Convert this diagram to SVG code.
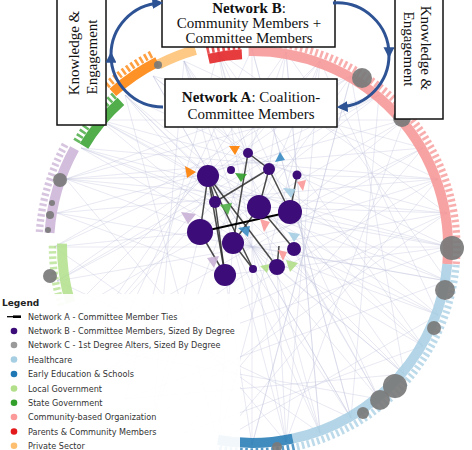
<svg xmlns="http://www.w3.org/2000/svg" width="472" height="450" viewBox="0 0 472 450">
<defs>
<style>
.chord{fill:none;stroke:#bcc1da;stroke-width:.7;opacity:.5}
.band{fill:none;stroke-width:10;opacity:.85}
.teeth{fill:none;stroke-width:7;stroke-dasharray:2.5 2.5;opacity:.75}
.edge{stroke:#2a2a2a;stroke-width:1.5;opacity:.85}
.nb{fill:#3c0c78}
.nc{fill:#7a7a7a;opacity:.92}
.box{fill:#fff;stroke:#111;stroke-width:1.5}
.bt{font-family:"Liberation Serif",serif;font-size:15px;fill:#111}
.lg{font-family:"DejaVu Sans",sans-serif;font-size:8.1px;fill:#333}
.arr{fill:none;stroke:#2e5395;stroke-width:3}
</style>
<marker id="ah" viewBox="0 0 10 10" refX="7" refY="5" markerWidth="11" markerHeight="11" markerUnits="userSpaceOnUse" orient="auto">
<path d="M0,0 L10,5 L0,10 z" fill="#2e5395"/>
</marker>
</defs>
<rect width="472" height="450" fill="#fff"/>

<g id="connectors">
<path class="chord" d="M252,49L252,445M286,52L153,418M320,61L81,346M351,76L54,247M379,95L66,179M404,120L100,120M423,148L153,76M438,179L184,61M447,213L218,52M450,247L54,247M447,281L57,213M438,315L66,179M423,346L81,148M404,374L100,120M379,399L125,95M351,418L153,76M320,433L184,61M286,442L218,52M450,247L100,374M447,213L153,418M438,179L218,442M423,148L184,433M404,120L286,442M379,95L351,418M351,76L404,374M320,61L438,315M286,52L447,281M218,52L423,346M184,61L379,399M153,76L438,315M125,95L450,247M100,120L447,213M81,148L438,179M66,179L423,148M57,213L404,120M54,247L379,95M57,281L351,76M66,315L320,61M81,346L286,52M100,374L252,49M125,399L218,52M153,418L184,61M218,442L125,95M286,442L66,179M320,433L54,247M351,418L57,281M379,399L81,346M404,374L125,399M423,346L184,433M438,315L218,442M447,281L125,399M447,213L100,374M320,61L218,442M351,76L252,445M286,52L320,433M252,49L351,418M218,52L320,433M184,61L286,442M153,76L351,418M125,95L404,374M100,120L447,281M81,148L450,247M66,179L447,213M57,213L438,179M351,76L66,179M379,95L57,281M404,120L66,315M423,148L81,346M438,179L100,374M447,213L57,281M450,247L66,179M447,281L81,148M438,315L100,120M423,346L125,95M404,374L184,61M379,399L218,52M351,418L252,49M320,433L286,52M286,442L320,61M252,445L351,76"/>
<path class="chord" d="M351,76L259,207M404,120L290,212M450,247L290,212M438,315L294,249M404,374L277,267M351,418L253,269M252,445L225,275M153,418L200,232M54,247L200,232M66,179L208,176M125,95L208,176M218,52L248,153M286,52L269,169M438,179L297,175M447,213L259,207M447,281L233,243M320,433L233,243M81,346L215,202M81,148L215,202M184,61L231,170M320,61L259,207M423,148L290,212M423,346L290,212M379,399L294,249M286,442L277,267M218,442L233,243M57,213L225,275M100,120L259,207M153,76L269,169M379,95L200,232M450,247L225,275M100,374L253,269M57,281L269,169M438,179L233,243"/>
<g id="committee-ties">
<line class="edge" x1="208" y1="176" x2="215" y2="202"/>
<line class="edge" x1="208" y1="176" x2="225" y2="275"/>
<line class="edge" x1="208" y1="176" x2="253" y2="269"/>
<line class="edge" x1="208" y1="176" x2="277" y2="267"/>
<line class="edge" x1="215" y1="202" x2="225" y2="275"/>
<line class="edge" x1="248" y1="153" x2="269" y2="169"/>
<line class="edge" x1="248" y1="153" x2="233" y2="243"/>
<line class="edge" x1="269" y1="169" x2="215" y2="202"/>
<line class="edge" x1="269" y1="169" x2="290" y2="212"/>
<line class="edge" x1="269" y1="169" x2="259" y2="207"/>
<line class="edge" x1="200" y1="232" x2="208" y2="176"/>
<line class="edge" x1="200" y1="232" x2="225" y2="275"/>
<line class="edge" x1="233" y1="243" x2="259" y2="207"/>
<line class="edge" x1="259" y1="207" x2="294" y2="249"/>
<line class="edge" x1="233" y1="243" x2="253" y2="269"/>
<line class="edge" x1="277" y1="267" x2="279" y2="246"/>
<line class="edge" x1="297" y1="175" x2="290" y2="212"/>
<line x1="200" y1="232" x2="290" y2="212" stroke="#000" stroke-width="2"/>
</g>
</g>

<g id="ring-bands">
<path class="band" stroke="#f79393" d="M248.6,51.0 A196,196 0 0 1 447.3,264.1"/>
<path class="teeth" stroke="#f79393" transform="translate(252 247) scale(1.045) translate(-252 -247)" d="M248.6,51.0 A196,196 0 0 1 447.3,264.1"/>
<path class="band" stroke="#e31a1c" d="M208.6,58.9 A193,193 0 0 1 241.9,54.3"/>
<path class="teeth" stroke="#e31a1c" transform="translate(252 247) scale(1.045) translate(-252 -247)" d="M208.6,58.9 A193,193 0 0 1 241.9,54.3"/>
<path class="band" stroke="#a6cee3" d="M447.3,264.1 A196,196 0 0 1 292.7,438.7"/>
<path class="teeth" stroke="#a6cee3" transform="translate(252 247) scale(1.045) translate(-252 -247)" d="M447.3,264.1 A196,196 0 0 1 292.7,438.7"/>
<path class="band" stroke="#1f78b4" d="M292.7,438.7 A196,196 0 0 1 218.0,440.0"/>
<path class="teeth" stroke="#1f78b4" transform="translate(252 247) scale(1.045) translate(-252 -247)" d="M292.7,438.7 A196,196 0 0 1 218.0,440.0"/>
<path class="band" stroke="#b2df8a" stroke-width="13" d="M70.3,302.6 A190,190 0 0 1 62.0,243.7"/>
<path class="teeth" stroke="#b2df8a" transform="translate(252 247) scale(1.05) translate(-252 -247)" d="M70.3,302.6 A190,190 0 0 1 62.0,243.7"/>
<path class="band" stroke="#cab2d6" stroke-width="14" d="M49.5,232.8 A203,203 0 0 1 74.5,148.6"/>
<path class="teeth" stroke="#cab2d6" transform="translate(252 247) scale(1.05) translate(-252 -247)" d="M49.5,232.8 A203,203 0 0 1 74.5,148.6"/>
<path class="band" stroke="#33a02c" d="M84.0,146.1 A196,196 0 0 1 120.9,101.4"/>
<path class="teeth" stroke="#33a02c" transform="translate(252 247) scale(1.045) translate(-252 -247)" d="M84.0,146.1 A196,196 0 0 1 120.9,101.4"/>
<path class="band" stroke="#ff7f00" d="M112.8,92.4 A208,208 0 0 1 157.6,61.7"/>
<path class="teeth" stroke="#ff7f00" transform="translate(252 247) scale(1.045) translate(-252 -247)" d="M112.8,92.4 A208,208 0 0 1 157.6,61.7"/>
<path class="band" stroke="#fdbf6f" stroke-width="6" d="M158.9,64.3 A205,205 0 0 1 195.5,49.9"/>
</g>

<g id="ring-nodes">
<circle class="nc" cx="158" cy="65" r="4"/>
<circle class="nc" cx="362" cy="78" r="10"/>
<circle class="nc" cx="402" cy="118" r="9"/>
<circle class="nc" cx="452" cy="248" r="12"/>
<circle class="nc" cx="445" cy="290" r="10"/>
<circle class="nc" cx="434" cy="328" r="7"/>
<circle class="nc" cx="395" cy="386" r="12"/>
<circle class="nc" cx="380" cy="400" r="10"/>
<circle class="nc" cx="363" cy="413" r="6"/>
<circle class="nc" cx="60" cy="180" r="7"/>
<circle class="nc" cx="52" cy="203" r="3"/>
<circle class="nc" cx="50" cy="215" r="4"/>
<circle class="nc" cx="48" cy="230" r="3"/>
<circle class="nc" cx="50" cy="276" r="7"/>
<circle class="nc" cx="277" cy="447" r="5"/>
</g>

<g id="alter-markers" opacity="0.9">
<polygon points="229,146 240,146 235,155" fill="#ff7f00"/>
<polygon points="185,166 196,172 187,178" fill="#ff7f00"/>
<polygon points="275,162 280,152 285,160" fill="#3a8cc4"/>
<polygon points="235,173 247,174 241,182" fill="#33a02c"/>
<polygon points="220,205 232,203 228,215" fill="#52b04a"/>
<polygon points="181,212 196,214 188,224" fill="#cab2d6"/>
<polygon points="283,188 296,189 291,198" fill="#a6cee3"/>
<polygon points="297,182 306,180 303,191" fill="#fb9a99"/>
<polygon points="260,219 270,222 264,232" fill="#fb9a99"/>
<polygon points="238,228 250,226 248,237" fill="#3a8cc4"/>
<polygon points="288,232 300,234 294,242" fill="#a6cee3"/>
<polygon points="278,250 287,252 283,261" fill="#fb9a99"/>
<polygon points="207,258 219,256 214,268" fill="#cab2d6"/>
<polygon points="286,260 298,263 290,272" fill="#b2df8a"/>
<polygon points="260,266 270,264 267,273" fill="#b2df8a"/>
</g>

<g id="committee-members">
<g id="nT"><circle class="nb" cx="248" cy="153" r="5"/></g>
<g id="nA"><circle class="nb" cx="208" cy="176" r="11"/></g>
<g id="nC"><circle class="nb" cx="231" cy="170" r="4"/></g>
<g id="nD"><circle class="nb" cx="269" cy="169" r="6"/></g>
<g id="nE"><circle class="nb" cx="297" cy="175" r="4.5"/></g>
<g id="nB"><circle class="nb" cx="215" cy="202" r="6"/></g>
<g id="nG"><circle class="nb" cx="259" cy="207" r="12"/></g>
<g id="nH"><circle class="nb" cx="290" cy="212" r="12"/></g>
<g id="nI"><circle class="nb" cx="200" cy="232" r="13"/></g>
<g id="nJ"><circle class="nb" cx="233" cy="243" r="11"/></g>
<g id="nK"><circle class="nb" cx="294" cy="249" r="7"/></g>
<g id="nL"><circle class="nb" cx="225" cy="275" r="11"/></g>
<g id="nM"><circle class="nb" cx="253" cy="269" r="4"/></g>
<g id="nN"><circle class="nb" cx="277" cy="267" r="8"/></g>
</g>

<g id="legend">
<rect x="0" y="294" width="240" height="156" fill="#fff" opacity="0.93"/>
<text x="2" y="306" font-family="DejaVu Sans, sans-serif" font-size="9px" font-weight="bold" fill="#222">Legend</text>
<line x1="7" y1="316.7" x2="21" y2="316.7" stroke="#000" stroke-width="1.3"/>
<line x1="13" y1="316.7" x2="21" y2="316.7" stroke="#000" stroke-width="2.6"/>
<text class="lg" x="28" y="319.5">Network A - Committee Member Ties</text>
<circle cx="14" cy="331" r="3.3" fill="#3c0c78"/>
<text class="lg" x="28" y="334">Network B - Committee Members, Sized By Degree</text>
<circle cx="14" cy="345" r="3.3" fill="#9a9a9a"/>
<text class="lg" x="28" y="348">Network C - 1st Degree Alters, Sized By Degree</text>
<circle cx="14" cy="359.5" r="3.3" fill="#a6cee3"/>
<text class="lg" x="28" y="362.5">Healthcare</text>
<circle cx="14" cy="374" r="3.3" fill="#1f78b4"/>
<text class="lg" x="28" y="377">Early Education &amp; Schools</text>
<circle cx="14" cy="388.5" r="3.3" fill="#b2df8a"/>
<text class="lg" x="28" y="391.5">Local Government</text>
<circle cx="14" cy="402.7" r="3.3" fill="#33a02c"/>
<text class="lg" x="28" y="405.7">State Government</text>
<circle cx="14" cy="417" r="3.3" fill="#fb9a99"/>
<text class="lg" x="28" y="420">Community-based Organization</text>
<circle cx="14" cy="431.5" r="3.3" fill="#e31a1c"/>
<text class="lg" x="28" y="434.5">Parents &amp; Community Members</text>
<circle cx="14" cy="445.7" r="3.3" fill="#fdbf6f"/>
<text class="lg" x="28" y="448.7">Private Sector</text>
</g>

<g id="box-knowledge-left">
<rect class="box" x="57" y="-2" width="49" height="127"/>
<text class="bt" text-anchor="middle" transform="translate(79 53) rotate(-90)">Knowledge &amp;</text>
<text class="bt" text-anchor="middle" transform="translate(97 57) rotate(-90)">Engagement</text>
</g>
<g id="box-network-b">
<rect class="box" x="162" y="-2" width="173" height="49"/>
<text class="bt" x="249" y="13" text-anchor="middle"><tspan font-weight="bold">Network B</tspan>:</text>
<text class="bt" x="249" y="28" text-anchor="middle">Community Members +</text>
<text class="bt" x="249" y="43" text-anchor="middle">Committee Members</text>
</g>
<g id="box-network-a">
<rect class="box" x="165" y="79" width="172" height="48"/>
<text class="bt" x="251" y="102" text-anchor="middle"><tspan font-weight="bold">Network A</tspan>: Coalition-</text>
<text class="bt" x="251" y="119" text-anchor="middle">Committee Members</text>
</g>
<g id="box-knowledge-right">
<rect class="box" x="395" y="-2" width="48" height="121"/>
<text class="bt" text-anchor="middle" transform="translate(421 48) rotate(90)">Knowledge &amp;</text>
<text class="bt" text-anchor="middle" transform="translate(404 49) rotate(90)">Engagement</text>
</g>

<g id="feedback-arrows">
<path class="arr" d="M163,107 A52,52 0 0 1 111,55 A52,52 0 0 1 160,3" marker-mid="url(#ah)" marker-end="url(#ah)"/>
<path class="arr" d="M333,3 A52,52 0 0 1 389,55 A52,52 0 0 1 340,107" marker-mid="url(#ah)" marker-end="url(#ah)"/>
</g>
</svg>
